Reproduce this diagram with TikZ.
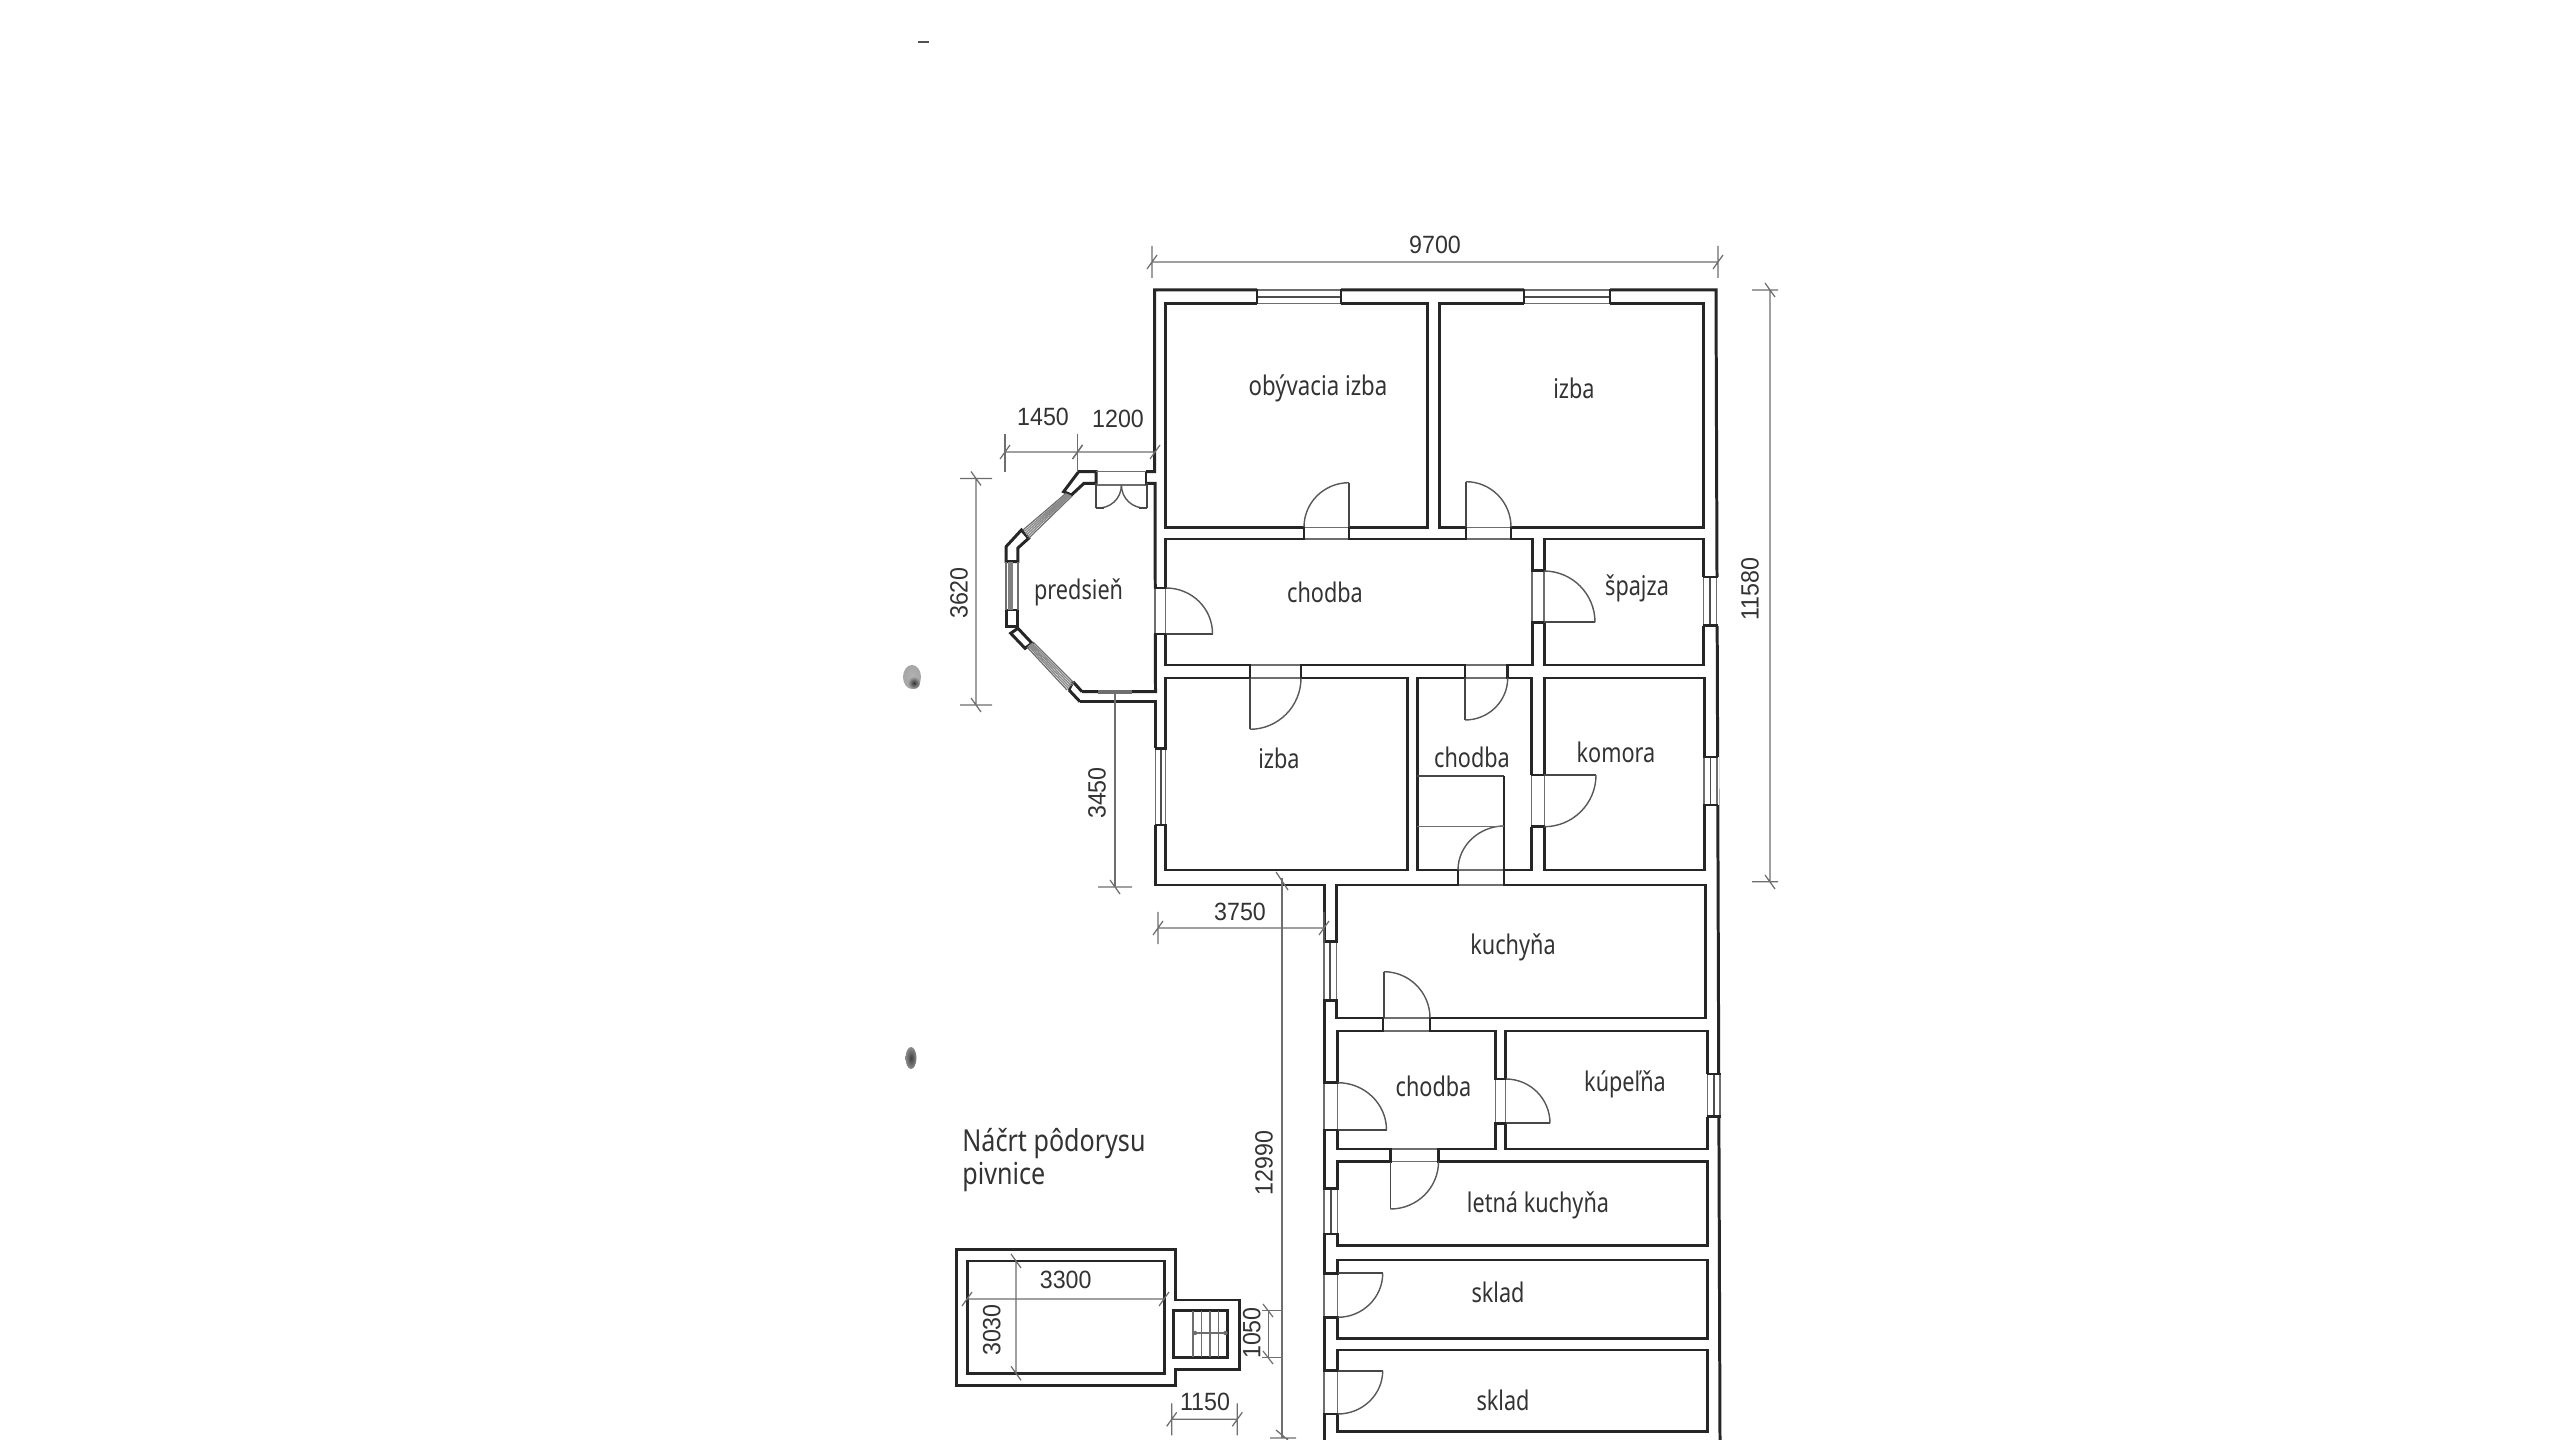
\documentclass[tikz,border=0pt]{standalone}
\usepackage{fontspec}
\usetikzlibrary{calc}
\setmainfont{Noto Sans}
\newfontfamily\digitfont{Liberation Sans}
\definecolor{wallc}{HTML}{262626}
\definecolor{thinc}{HTML}{6E6E6E}
\definecolor{textc}{HTML}{333333}
\tikzset{
 wall/.style={draw=wallc,line width=0.85pt,line join=miter},
 capl/.style={draw=wallc,line width=0.75pt},
 thinl/.style={draw=thinc,line width=0.35pt},
 midl/.style={draw=thinc!70!black,line width=0.5pt},
 leaf/.style={draw=wallc!85,line width=0.5pt},
 swingl/.style={draw=thinc!80!black,line width=0.4pt},
 dimline/.style={draw=thinc,line width=0.35pt},
 room/.style={inner sep=0pt,text=textc,font=\fontsize{7.7}{9}\selectfont},
 dimtext/.style={inner sep=0pt,text=textc,font=\digitfont\fontsize{7.1}{8.5}\selectfont}
}
\newcommand{\cond}[1]{\scalebox{0.8}[1]{#1}}
\newcommand{\cdig}[1]{\scalebox{0.93}[1]{#1}}
% door gap in a horizontal wall: x1 x2 y1 y2
\newcommand{\hgap}[4]{\fill[white] (#1,#3-2) rectangle (#2,#4+2);
 \draw[thinl] (#1,#3)--(#2,#3) (#1,#4)--(#2,#4);
 \draw[capl] (#1,#3-1)--(#1,#4+1) (#2,#3-1)--(#2,#4+1);}
% door gap in a vertical wall: x1 x2 y1 y2
\newcommand{\vgap}[4]{\fill[white] (#1-2,#3) rectangle (#2+2,#4);
 \draw[thinl] (#1,#3)--(#1,#4) (#2,#3)--(#2,#4);
 \draw[capl] (#1-1,#3)--(#2+1,#3) (#1-1,#4)--(#2+1,#4);}
% window in a horizontal wall
\newcommand{\hwin}[4]{\fill[white] (#1,#3-2) rectangle (#2,#4+2);
 \draw[thinl] (#1,#3)--(#2,#3) (#1,#4)--(#2,#4);
 \draw[midl] (#1,{(#3+#4)/2})--(#2,{(#3+#4)/2});
 \draw[capl] (#1,#3-1)--(#1,#4+1) (#2,#3-1)--(#2,#4+1);}
% window in a vertical wall
\newcommand{\vwin}[4]{\fill[white] (#1-2,#3) rectangle (#2+2,#4);
 \draw[thinl] (#1,#3)--(#1,#4) (#2,#3)--(#2,#4);
 \draw[midl] ({(#1+#2)/2},#3)--({(#1+#2)/2},#4);
 \draw[capl] (#1-1,#3)--(#2+1,#3) (#1-1,#4)--(#2+1,#4);}
% door leaf and swing: hinge, tip, end of swing
\newcommand{\swing}[6]{\draw[leaf] (#1,#2)--(#3,#4);
 \draw[swingl] (#3,#4) .. controls ($(#3,#4)+.552*(#5,#6)-.552*(#1,#2)$) and ($(#5,#6)+.552*(#3,#4)-.552*(#1,#2)$) .. (#5,#6);}
% horizontal dimension: x1 x2 y half-length of tick
\newcommand{\dimh}[4]{\draw[dimline] (#1,#3)--(#2,#3)
 (#1,#3-#4)--(#1,#3+#4) (#2,#3-#4)--(#2,#3+#4)
 (#1-5,#3+7)--(#1+5,#3-7) (#2-5,#3+7)--(#2+5,#3-7);}
% vertical dimension: x y1 y2 half-length of tick
\newcommand{\dimv}[4]{\draw[dimline] (#1,#2)--(#1,#3)
 (#1-#4,#2)--(#1+#4,#2) (#1-#4,#3)--(#1+#4,#3)
 (#1-5,#2-7)--(#1+5,#2+7) (#1-5,#3-7)--(#1+5,#3+7);}
\begin{document}
\begin{tikzpicture}[x=0.01cm,y=-0.01cm]
\useasboundingbox (0,0) rectangle (2560,1440);
\fill[white] (0,0) rectangle (2560,1440);
% stray marks of the scan
\fill[wallc!80] (917.5,41) rectangle (929,43);
\shade[inner color=black!30,outer color=black!35] (912,677) ellipse (9 and 12);
\shade[inner color=black!80,outer color=black!35] (914,683) ellipse (6 and 6);
\shade[inner color=black!75,outer color=black!45] (911,1058) ellipse (5.5 and 11);

% outer walls
\draw[wall] (1146,483.3)--(1155,483.3)--(1155.5,691.7)--(1082,691.7);
\draw[wall] (1146,471.7)--(1154.5,471.7)--(1154.5,290)--(1716,290)--(1720,1440);
\draw[wall] (1080,701.7)--(1155.5,701.7)--(1155.5,885)--(1324,885)--(1324,1440);
% rooms
\draw[wall] (1165.6,303.3) rectangle (1427,527.3);
\draw[wall] (1439,303.3) rectangle (1703,527.3);
\draw[wall] (1165.6,539) rectangle (1532,665);
\draw[wall] (1544,539) rectangle (1703.5,665);
\draw[wall] (1165.8,678) rectangle (1407,870);
\draw[wall] (1417,678) rectangle (1531.6,870);
\draw[wall] (1544.4,678) rectangle (1704,870);
\draw[wall] (1336.7,885) rectangle (1705,1018);
\draw[wall] (1337.7,1031) rectangle (1495.4,1149);
\draw[wall] (1505.8,1031) rectangle (1707,1149);
\draw[wall] (1337.7,1161.7) rectangle (1707,1245.7);
\draw[wall] (1337.7,1260) rectangle (1707,1338.3);
\draw[wall] (1337.7,1350) rectangle (1707,1431.7);

% porch walls
\draw[wall] (1096,483.3)--(1084,483.3)--(1071.4,495)--(1063.6,491.7)--(1078.6,471.7)--(1096,471.7)--cycle;
\draw[wall] (1021.4,530)--(1006,546.7)--(1006,561.7)--(1017.9,561.7)--(1017.9,548)--(1028.6,538.3)--cycle;
\draw[wall] (1006,610) rectangle (1017.9,626.7);
\draw[wall] (1010.7,633.3)--(1017.9,628.3)--(1032,643.3)--(1025,648.3)--cycle;
\draw[wall] (1073,681.7)--(1082,691.7) (1069,690)--(1080,701.7);
\draw[capl] (1069,690)--(1073,681.7);
% porch windows
\draw[thinl] (1066,493.3)--(1023,530) (1072,496)--(1028.6,538.3);
\draw[thinl,draw=thinc!80] (1067.2,493.8)--(1024.1,531.6) (1068.4,494.3)--(1025.2,533.3) (1069.6,494.8)--(1026.3,535) (1070.8,495.4)--(1027.5,536.6);
\draw[thinl] (1006,561.7)--(1006,610) (1017.9,561.7)--(1017.9,610);
\draw[midl,line width=1.3pt,draw=black!50] (1010.5,561.7)--(1010.5,610);
\draw[thinl] (1027,647)--(1067,690) (1033,642)--(1074,683);
\draw[thinl,draw=thinc!80] (1028.2,646)--(1068.4,688.6) (1029.4,645)--(1069.8,687.2) (1030.6,644)--(1071.2,685.8) (1031.8,643)--(1072.6,684.4);
% porch door
\draw[thinl] (1096,471.7)--(1146,471.7) (1096,485)--(1146,485);
\draw[capl] (1146,471.7)--(1146,485);
\swing{1096}{483}{1096}{508}{1121.4}{485}
\swing{1147}{483}{1147}{508}{1121.4}{485}
\draw[leaf] (1096,508)--(1104,508) (1139,508)--(1147,508);
% wall mark over the side of the porch
\draw[thinc,line width=0.9pt] (1098,692)--(1132,692);

% openings on the upper block
\hwin{1257}{1341}{290}{303.3}
\hwin{1524}{1610}{290}{303.3}
\hgap{1304}{1349}{527.3}{539}
\hgap{1466}{1511}{527.3}{539}
\vgap{1155}{1165.6}{588}{634}
\vgap{1532}{1544}{570.7}{622.3}
\vwin{1703.5}{1716.7}{577}{625.7}
\hgap{1250}{1301}{665}{678}
\hgap{1465}{1507.7}{665}{678}
\vwin{1155.5}{1165.8}{748.3}{825}
\vgap{1531.6}{1544.4}{775}{826.7}
\vwin{1704}{1717}{757}{805}
\hgap{1458}{1504}{870}{885}
% openings on the lower block
\vwin{1324}{1336.7}{941.7}{1000.7}
\hgap{1383}{1430}{1018}{1031}
\vgap{1324}{1337.7}{1082.7}{1130}
\vgap{1495.4}{1505.8}{1079}{1123.3}
\vwin{1707.5}{1720}{1074}{1116.7}
\hgap{1390.4}{1438.5}{1149}{1161.7}
\vwin{1324}{1337.7}{1188.3}{1234}
\vgap{1324}{1337.7}{1273.3}{1317.3}
\vgap{1324}{1337.7}{1370.7}{1414}
% door leaves and swings
\swing{1349}{527}{1349}{482.7}{1304}{527}
\swing{1466}{527}{1466}{481.7}{1511}{527}
\swing{1165.6}{634}{1212.5}{634}{1166}{588}
\swing{1544}{622.3}{1595}{622.3}{1544}{571}
\swing{1250}{678}{1250}{729.3}{1301}{678}
\swing{1465}{678}{1465}{720}{1507.7}{678}
\swing{1544.4}{775}{1596}{775}{1544.4}{826.7}
\swing{1383.8}{1018}{1383.8}{971.7}{1430}{1018}
\swing{1337.7}{1130}{1386.5}{1130}{1337.7}{1082.7}
\swing{1505.8}{1123.3}{1550}{1123.3}{1505.8}{1079}
\swing{1390.4}{1161.7}{1390.4}{1209}{1438.5}{1161.7}
\swing{1337.7}{1273.3}{1382.7}{1273.3}{1337.7}{1317.3}
\swing{1337.7}{1370.7}{1382.7}{1370.7}{1337.7}{1414}
% small lobby inside the rear corridor
\draw[leaf] (1417,776)--(1504,776);
\draw[wall,line width=0.6pt] (1504,776)--(1504,885);
\draw[swingl] (1504,826) .. controls (1480,826) and (1458,845) .. (1458,870);
\draw[thinl] (1417,826.7)--(1504,826.7);

% cellar
\draw[wall] (956,1249.3)--(1175,1249.3)--(1175,1300)--(1239.3,1300)--(1239.3,1369.3)--(1175,1369.3)--(1175,1385)--(956,1385)--cycle;
\draw[wall] (967.3,1261) rectangle (1164,1373.3);
\draw[wall] (1173.3,1310.7) rectangle (1227.3,1357.3);
\foreach \sx in {1193,1201.7,1210,1218.3} \draw[thinl] (\sx,1310.7)--(\sx,1357.3);
\draw[thinl] (1195,1333)--(1226,1333);
\fill[thinc] (1195,1333) circle (2.2) (1225.5,1333) circle (2.2);

% dimensions
\dimh{1152}{1718}{262}{16}
\draw[dimline] (1770,290)--(1770,881.7) (1752,290)--(1778,290) (1752,881.7)--(1778,881.7)
 (1765,283)--(1775,297) (1765,875)--(1775,889);
\dimh{1005}{1077.5}{452}{0}
\draw[dimline] (1005,434)--(1005,472) (1077.5,434)--(1077.5,472);
\dimh{1077.5}{1155}{452}{0}
\dimv{976}{478.5}{705}{16}
\draw[dimline] (1115,692)--(1115,887);
\draw[dimline] (1098,887)--(1132,887) (1110,880)--(1120,894);
\dimh{1158}{1324}{928}{16}
\draw[dimline] (1282,878)--(1282,1438);
\draw[dimline] (1276,872)--(1288,890) (1276,1430)--(1288,1440) (1270,1438)--(1296,1438);
\dimh{967}{1164}{1299}{0}
\dimv{1016}{1261}{1373.3}{0}
\draw[dimline] (1268.3,1310.7)--(1268.3,1357.3) (1262,1310.7)--(1283,1310.7) (1262,1357.3)--(1283,1357.3);
\draw[dimline] (1263,1304)--(1273,1317) (1263,1351)--(1273,1364);
\dimh{1171.7}{1237.3}{1419.3}{16}

% room names
\node[room] (n1) at (1318,388) {\scalebox{0.82}[1]{obývacia izba}};
\node[room] (n2) at (1574,388) {\cond{izba}};
\node[room] (n3) at (1325,592) {\cond{chodba}};
\node[room] (n4) at (1637,588) {\cond{špajza}};
\node[room] (n5) at (1078.6,592) {\cond{predsieň}};
\node[room] (n6) at (1279,758) {\cond{izba}};
\node[room] (n7) at (1472,757) {\cond{chodba}};
\node[room] (n8) at (1616,752) {\cond{komora}};
\node[room] (n9) at (1513,947) {\cond{kuchyňa}};
\node[room] (n10) at (1433.5,1086) {\cond{chodba}};
\node[room] (n11) at (1625,1084) {\cond{kúpeľňa}};
\node[room] (n12) at (1538,1205) {\cond{letná kuchyňa}};
\node[room] (n13) at (1498,1292) {\cond{sklad}};
\node[room] (n14) at (1503,1400.7) {\cond{sklad}};
% heading
\node[room,anchor=west,font=\fontsize{8.6}{10}\selectfont] (h1) at (961.7,1144) {\scalebox{0.83}[1]{Náčrt pôdorysu}};
\node[room,anchor=west,font=\fontsize{8.6}{10}\selectfont] (h2) at (961.7,1177) {\scalebox{0.83}[1]{pivnice}};
% dimension values
\node[dimtext] (d1) at (1435,245) {\cdig{9700}};
\node[dimtext,rotate=90] (d2) at (1750,589) {\cdig{11580}};
\node[dimtext] (d3) at (1043,417) {\cdig{1450}};
\node[dimtext] (d4) at (1118,419) {\cdig{1200}};
\node[dimtext,rotate=90] (d5) at (959,593) {\cdig{3620}};
\node[dimtext,rotate=90] (d6) at (1097,793) {\cdig{3450}};
\node[dimtext] (d7) at (1240,912) {\cdig{3750}};
\node[dimtext,rotate=90] (d8) at (1264,1163) {\cdig{12990}};
\node[dimtext] (d9) at (1065.7,1280) {\cdig{3300}};
\node[dimtext,rotate=90] (d10) at (991.7,1330) {\cdig{3030}};
\node[dimtext,rotate=90] (d11) at (1251.7,1333) {\cdig{1050}};
\node[dimtext] (d12) at (1205,1401.7) {\cdig{1150}};
\end{tikzpicture}
\end{document}
